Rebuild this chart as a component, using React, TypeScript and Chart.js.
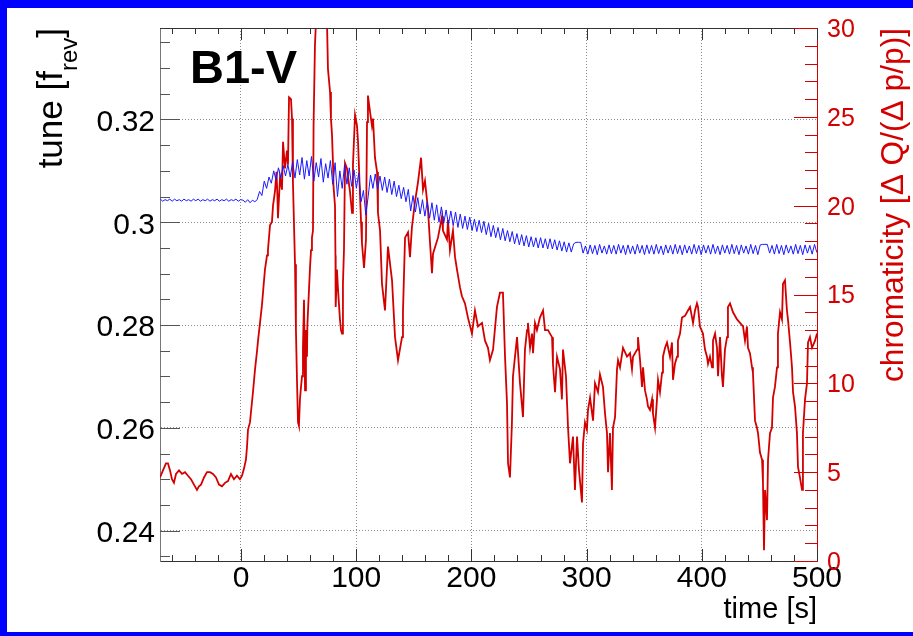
import React, { useEffect, useRef } from "react";
import { Chart, registerables } from "chart.js";

Chart.register(...registerables);

// ---------- axis ranges ----------
const TIME_MIN = -70.3;
const TIME_MAX = 500;
const TUNE_MIN = 0.2341;
const TUNE_MAX = 0.3378;
const CHROMA_MIN = 0;
const CHROMA_MAX = 30;

// ---------- texts ----------
const labelText = "B1-V";
const xTitle = "time [s]";
const yTitleMain = "tune [f";
const yTitleSub = "rev";
const yTitleEnd = "]";
const y2Title = "chromaticity [\u0394 Q/(\u0394 p/p)]";

// ---------- tune (blue), sampled every 2.05 s from -70 s ----------
const tuneStart = -70;
const tuneStep = 2.05;
const tuneValues = [
  0.3045, 0.3041, 0.3044, 0.3042, 0.3045, 0.3041, 0.3045, 0.3042, 0.3044, 0.3041,
  0.3045, 0.3042, 0.3044, 0.3041, 0.3045, 0.3042, 0.3045, 0.3041, 0.3044, 0.3042,
  0.3045, 0.3041, 0.3044, 0.3042, 0.3045, 0.3041, 0.3044, 0.3042, 0.3045, 0.3041,
  0.3044, 0.3042, 0.3045, 0.3041, 0.3044,
  0.3043, 0.3039, 0.3044, 0.3038, 0.3043, 0.3040,
  0.3044, 0.3060, 0.3052, 0.3080, 0.3066, 0.3088, 0.3076,
  0.3100, 0.3082, 0.3106, 0.3086, 0.3110, 0.3090, 0.3112,
  0.3088, 0.3118, 0.3086, 0.3122, 0.3092, 0.3126, 0.3084, 0.3120, 0.3090, 0.3128,
  0.3080, 0.3116, 0.3088, 0.3124, 0.3078, 0.3114, 0.3086, 0.3120,
  0.3074, 0.3116, 0.3050, 0.3100, 0.3066, 0.3112, 0.3074, 0.3106,
  0.3070, 0.3102, 0.3066, 0.3096, 0.3040, 0.3062, 0.3014,
  0.3050, 0.3092, 0.3066, 0.3094, 0.3064, 0.3090, 0.3062,
  0.3088, 0.3058, 0.3084, 0.3054, 0.3080, 0.3050, 0.3072, 0.3046, 0.3068, 0.3040, 0.3064,
  0.3022, 0.3052, 0.3020, 0.3048, 0.3016, 0.3044, 0.3012, 0.3040, 0.3008, 0.3038,
  0.3004, 0.3034, 0.3000, 0.3030, 0.2998,
  0.3024, 0.2996, 0.3022, 0.2994, 0.3020, 0.2990, 0.3016, 0.2988, 0.3012, 0.2986,
  0.3010, 0.2984, 0.3006, 0.2982, 0.3004,
  0.2980, 0.3002, 0.2976, 0.2998, 0.2972, 0.2994, 0.2970, 0.2990, 0.2966, 0.2988,
  0.2964, 0.2984, 0.2962, 0.2982, 0.2958,
  0.2978, 0.2956, 0.2976, 0.2954, 0.2974, 0.2952, 0.2972, 0.2952, 0.2970, 0.2950,
  0.2970, 0.2950, 0.2968, 0.2948, 0.2968,
  0.2948, 0.2966, 0.2946, 0.2964, 0.2944, 0.2962, 0.2942, 0.2960, 0.2942, 0.2958,
  0.2961, 0.2961, 0.2961,
  0.2940, 0.2954, 0.2938, 0.2956, 0.2939, 0.2955, 0.2937, 0.2957, 0.2940, 0.2954,
  0.2938, 0.2956, 0.2939, 0.2955, 0.2938, 0.2957, 0.2940, 0.2955, 0.2937, 0.2956,
  0.2939, 0.2954, 0.2938, 0.2957, 0.2940, 0.2955, 0.2937, 0.2956, 0.2939, 0.2955,
  0.2938, 0.2957, 0.2939, 0.2954, 0.2937, 0.2956, 0.2940, 0.2955, 0.2938, 0.2957,
  0.2939, 0.2955, 0.2937, 0.2956, 0.2940, 0.2954, 0.2938, 0.2957, 0.2939, 0.2955,
  0.2937, 0.2956, 0.2940, 0.2955, 0.2938, 0.2957, 0.2939, 0.2954, 0.2937, 0.2956,
  0.2940, 0.2955, 0.2938, 0.2957, 0.2939, 0.2955, 0.2937, 0.2956, 0.2940, 0.2954,
  0.2938, 0.2957, 0.2939, 0.2955, 0.2937, 0.2956, 0.2957, 0.2957, 0.2957, 0.2940,
  0.2955, 0.2938, 0.2957, 0.2939, 0.2955, 0.2937, 0.2956, 0.2940, 0.2954, 0.2938,
  0.2957, 0.2939, 0.2955, 0.2937, 0.2956, 0.2940, 0.2955, 0.2938, 0.2957, 0.2941,
];

// ---------- chromaticity (red) ----------
const chromaTimes = [
  -70.3, -67.7, -65.1, -63.4, -61.6, -59.9, -58.2, -56.4, -53.8, -51.2,
  -48.6, -46.0, -43.4, -40.8, -38.2, -36.5, -34.7, -32.1, -29.5, -26.9,
  -24.3, -21.7, -19.1, -16.5, -13.9, -11.3, -8.7, -6.1, -3.5, -0.9,
  0.9, 2.6, 4.3, 5.2, 6.1, 7.8, 8.7, 10.4, 12.2, 13.9,
  14.8, 16.5, 18.2, 19.1, 20.8, 22.6, 23.4, 25.2, 26.9, 27.8,
  29.5, 30.8, 31.6, 32.1, 33.9, 35.6, 36.5, 38.2, 39.9, 40.8,
  41.7, 43.4, 44.3, 45.1, 46.9, 47.7, 48.6, 49.5, 50.3, 51.2,
  52.1, 53.0, 53.8, 54.7, 55.6, 56.4, 57.3, 57.6, 58.2, 59.9,
  60.8, 61.6, 62.5, 63.0, 64.2, 65.1, 66.8, 73.8, 75.5, 77.3,
  78.1, 79.0, 79.9, 80.2, 81.6, 82.0, 82.2, 83.3, 84.2, 85.9,
  86.8, 87.7, 88.5, 89.4, 90.3, 92.0, 94.6, 96.4, 97.2, 99.0,
  100.7, 101.6, 103.3, 104.2, 105.0, 106.8, 108.5, 109.4, 110.2, 112.0,
  113.7, 114.6, 116.3, 118.1, 118.9, 120.7, 122.4, 125.0, 127.6, 131.1,
  133.7, 136.3, 139.8, 140.6, 142.4, 145.0, 146.7, 148.4, 151.0, 153.6,
  156.3, 158.0, 159.7, 162.3, 164.1, 165.8, 166.7, 171.0, 174.5, 175.3,
  178.8, 179.7, 181.4, 184.0, 185.8, 187.5, 190.1, 191.8, 194.4, 197.0,
  200.5, 203.1, 205.7, 209.2, 211.8, 214.4, 216.1, 218.8, 222.2, 224.8,
  227.4, 229.2, 230.9, 231.8, 233.5, 235.2, 236.1, 239.6, 242.2, 244.8,
  246.5, 248.3, 249.1, 250.9, 252.6, 253.5, 255.2, 256.9, 259.5, 262.2,
  263.9, 266.5, 270.0, 270.8, 272.6, 274.3, 276.9, 278.6, 279.5, 282.1,
  283.9, 285.6, 288.2, 289.9, 291.7, 293.4, 296.0, 296.9, 298.6, 300.3,
  301.2, 303.0, 305.6, 307.3, 309.9, 311.6, 314.2, 316.0, 317.7, 318.6,
  320.3, 322.0, 322.9, 324.7, 326.4, 327.3, 329.0, 331.6, 335.1, 337.7,
  339.4, 340.3, 343.8, 344.6, 346.4, 348.1, 349.0, 350.7, 352.4, 353.3,
  355.0, 356.8, 357.6, 359.4, 361.1, 362.0, 363.7, 365.5, 366.3, 368.1,
  369.8, 372.4, 374.1, 375.0, 376.7, 378.5, 379.3, 381.1, 382.8, 385.4,
  388.0, 389.8, 392.4, 394.1, 395.8, 396.7, 398.4, 401.0, 402.8, 404.5,
  405.4, 407.1, 408.9, 409.7, 411.5, 413.2, 414.1, 415.8, 417.5, 418.4,
  420.1, 421.9, 422.7, 424.5, 427.1, 430.6, 433.2, 435.8, 437.5, 439.2,
  440.1, 441.8, 443.6, 444.4, 446.2, 447.9, 448.8, 450.5, 452.3, 453.1,
  454.0, 454.9, 456.6, 457.5, 459.2, 460.9, 461.8, 463.5, 465.3, 466.1,
  467.9, 469.6, 470.5, 472.2, 473.9, 474.8, 476.6, 478.3, 479.2, 480.9,
  482.6, 483.5, 485.2, 487.0, 487.8, 489.6, 491.3, 492.2, 493.9, 495.7,
  498.3, 500.0,
];
const chromaValues = [
  4.7, 5.1, 5.5, 5.5, 5.1, 4.6, 4.4, 4.9, 5.1, 4.9,
  5.0, 4.8, 4.6, 4.3, 4.0, 4.2, 4.3, 4.7, 5.0, 5.0,
  4.9, 4.7, 4.3, 4.2, 4.4, 4.5, 4.9, 4.6, 4.8, 4.6,
  4.8, 5.2, 5.7, 6.4, 7.4, 7.8, 8.4, 9.5, 10.8, 11.8,
  12.4, 13.4, 14.4, 15.1, 16.4, 17.2, 17.5, 18.9, 19.1, 20.0,
  20.8, 21.9, 20.6, 19.3, 21.6, 20.9, 23.6, 22.1, 23.1, 22.3,
  26.1, 26.0, 24.9, 21.3, 16.7, 13.0, 10.2, 7.8, 7.6, 9.1,
  9.8, 10.4, 12.0, 14.7, 9.6, 13.0, 11.5, 13.2, 14.1, 16.5,
  17.5, 18.2, 18.6, 24.5, 29.0, 30.4, 33.0, 33.0, 27.7, 26.4,
  24.9, 24.0, 22.3, 21.2, 20.0, 17.2, 14.3, 16.4, 15.3, 13.6,
  13.0, 12.8, 15.6, 17.5, 22.4, 22.1, 20.8, 19.6, 22.3, 25.1,
  24.5, 23.6, 20.6, 19.1, 17.9, 16.5, 18.1, 24.7, 26.2, 25.3,
  24.5, 24.9, 22.7, 21.9, 19.6, 18.6, 15.6, 14.1, 17.7, 15.8,
  12.6, 11.3, 12.6, 14.0, 18.2, 18.5, 17.1, 18.8, 20.2, 21.3,
  22.7, 20.9, 21.4, 19.8, 17.9, 16.2, 17.3, 18.2, 19.4, 18.6,
  18.1, 19.2, 17.5, 18.6, 17.1, 16.4, 15.4, 14.9, 14.5, 13.7,
  12.8, 14.1, 13.2, 13.4, 12.4, 12.0, 11.3, 11.9, 14.3, 15.1,
  15.1, 11.5, 8.9, 5.5, 4.7, 7.8, 10.4, 12.6, 10.0, 8.1,
  11.9, 13.0, 13.4, 12.0, 12.8, 11.7, 13.4, 13.0, 13.7, 14.1,
  13.0, 13.0, 12.6, 11.1, 9.5, 11.5, 10.8, 9.1, 11.9, 10.4,
  7.5, 5.5, 7.0, 4.0, 7.0, 5.1, 3.3, 6.6, 7.8, 7.4,
  8.5, 9.2, 7.9, 10.0, 9.5, 10.5, 9.8, 8.3, 7.2, 5.0,
  7.2, 4.0, 7.5, 8.1, 10.8, 11.3, 10.9, 12.0, 11.5, 11.7,
  10.8, 11.5, 11.9, 12.6, 11.3, 9.8, 10.9, 9.6, 9.1, 8.7,
  8.5, 9.1, 8.3, 7.5, 9.1, 10.2, 9.5, 10.6, 11.5, 12.0,
  12.3, 11.5, 12.3, 10.2, 11.1, 11.5, 12.4, 12.8, 13.7, 13.8,
  14.1, 14.3, 13.4, 14.1, 14.5, 14.3, 13.2, 12.8, 11.9, 11.5,
  11.1, 11.5, 10.9, 12.4, 12.8, 12.0, 10.4, 12.6, 10.4, 9.8,
  11.9, 12.6, 14.3, 14.5, 14.0, 13.6, 13.4, 13.2, 12.4, 13.2,
  12.0, 11.7, 10.9, 10.6, 7.9, 7.5, 7.2, 6.1, 5.7, 4.4,
  0.6, 4.0, 2.3, 5.7, 7.2, 7.5, 9.2, 9.8, 10.9, 12.8,
  14.0, 13.6, 15.6, 15.8, 14.1, 13.6, 12.3, 10.9, 9.5, 8.7,
  7.2, 5.3, 4.7, 4.0, 7.2, 9.1, 10.0, 12.3, 12.6, 12.0,
  12.4, 12.8,
];

const FONT = '"Liberation Sans", Arial, Helvetica, sans-serif';
const RED = "#d40000";
const BLUE = "#1a1aff";

const framePlugin = {
  id: "rootFrame",
  beforeDraw(chart: any) {
    const { ctx, width, height } = chart;
    ctx.save();
    ctx.fillStyle = "#ffffff";
    ctx.fillRect(0, 0, width, height);
    ctx.fillStyle = "#0000ff";
    ctx.fillRect(0, 0, width, 8);
    ctx.fillRect(0, 0, 7, height);
    ctx.fillRect(0, height - 4, width, 4);
    ctx.restore();
  },
  afterDraw(chart: any) {
    const { ctx, chartArea: ca, scales } = chart;
    const xs = scales.x;
    const ys = scales.y;
    const y2s = scales.y2;
    const seg = (x1: number, y1: number, x2: number, y2: number) => {
      ctx.beginPath();
      ctx.moveTo(x1, y1);
      ctx.lineTo(x2, y2);
      ctx.stroke();
    };
    ctx.save();
    ctx.lineWidth = 1;
    // top frame line
    ctx.strokeStyle = "#333333";
    seg(ca.left, ca.top + 0.5, ca.right, ca.top + 0.5);
    // time ticks (bottom up, top down)
    for (let k = -3; k <= 25; k++) {
      const v = k * 20;
      const px = Math.round(xs.getPixelForValue(v)) + 0.5;
      const len = k % 5 === 0 ? 12 : 6;
      ctx.strokeStyle = "#333333";
      seg(px, ca.bottom, px, ca.bottom - len);
      seg(px, ca.top, px, ca.top + len);
    }
    // tune ticks (left, pointing right)
    ctx.strokeStyle = "#555555";
    for (let k = 47; k <= 67; k++) {
      const v = k * 0.005;
      const py = Math.round(ys.getPixelForValue(v)) + 0.5;
      const len = k % 4 === 0 ? 20 : 10;
      seg(ca.left, py, ca.left + len, py);
    }
    // chromaticity ticks (right, pointing left)
    ctx.strokeStyle = RED;
    for (let v = 0; v <= 30; v++) {
      const py = Math.round(y2s.getPixelForValue(v)) + 0.5;
      const len = v % 5 === 0 ? 23 : 12;
      seg(ca.right, py, ca.right - len, py);
    }
    ctx.restore();

    // titles
    ctx.save();
    ctx.textBaseline = "alphabetic";
    ctx.fillStyle = "#000000";
    const big = `35px ${FONT}`;
    const small = `24px ${FONT}`;
    ctx.font = big;
    const w1 = ctx.measureText(yTitleMain).width;
    const w3 = ctx.measureText(yTitleEnd).width;
    ctx.font = small;
    const w2 = ctx.measureText(yTitleSub).width;
    const W = w1 + w2 + w3;
    ctx.save();
    ctx.translate(62, ca.top);
    ctx.rotate(-Math.PI / 2);
    ctx.textAlign = "left";
    ctx.font = big;
    ctx.fillText(yTitleMain, -W, 0);
    ctx.font = small;
    ctx.fillText(yTitleSub, -W + w1, 15);
    ctx.font = big;
    ctx.fillText(yTitleEnd, -W + w1 + w2, 0);
    ctx.restore();

    ctx.save();
    ctx.translate(903, ca.top);
    ctx.rotate(-Math.PI / 2);
    ctx.textAlign = "right";
    ctx.fillStyle = RED;
    ctx.font = `31.7px ${FONT}`;
    ctx.fillText(y2Title, 0, 0);
    ctx.restore();

    ctx.textAlign = "right";
    ctx.font = `29px ${FONT}`;
    ctx.fillText(xTitle, ca.right, 618);

    ctx.textAlign = "left";
    ctx.font = `bold 47px ${FONT}`;
    ctx.fillText(labelText, 190, 83);
    ctx.restore();
  },
};

export default function App() {
  const canvasRef = useRef<HTMLCanvasElement | null>(null);

  useEffect(() => {
    const canvas = canvasRef.current;
    if (!canvas) return;
    const tuneData = tuneValues.map((v, i) => ({ x: tuneStart + i * tuneStep, y: v }));
    const chromaData = chromaTimes.map((t, i) => ({ x: t, y: chromaValues[i] }));

    const chart = new Chart(canvas, {
      type: "line",
      data: {
        datasets: [
          {
            label: "tune",
            data: tuneData,
            yAxisID: "y",
            borderColor: BLUE,
            borderWidth: 1,
            pointRadius: 0,
            tension: 0,
            fill: false,
          },
          {
            label: "chromaticity",
            data: chromaData,
            yAxisID: "y2",
            borderColor: RED,
            borderWidth: 1.8,
            pointRadius: 0,
            tension: 0,
            fill: false,
          },
        ],
      },
      options: {
        animation: false,
        responsive: false,
        devicePixelRatio: 1,
        layout: { padding: { top: 28, left: 0, right: 0, bottom: 0 } },
        plugins: {
          legend: { display: false },
          tooltip: { enabled: false },
          title: { display: false },
        },
        scales: {
          x: {
            type: "linear",
            position: "bottom",
            min: TIME_MIN,
            max: TIME_MAX,
            afterFit: (s: any) => {
              s.height = 75;
            },
            ticks: {
              stepSize: 100,
              includeBounds: false,
              padding: 0,
              color: "#000000",
              font: { family: FONT, size: 30 },
              maxRotation: 0,
              autoSkip: false,
            },
            grid: { color: "#8c8c8c", lineWidth: 1, drawTicks: false },
            border: { display: true, color: "#333333", width: 1, dash: [1, 2] },
          },
          y: {
            type: "linear",
            position: "left",
            min: TUNE_MIN,
            max: TUNE_MAX,
            afterFit: (s: any) => {
              s.width = 160;
            },
            ticks: {
              stepSize: 0.02,
              includeBounds: false,
              padding: 5,
              labelOffset: 3,
              color: "#000000",
              font: { family: FONT, size: 30 },
              callback: (v: any) => String(Number(Number(v).toFixed(3))),
              autoSkip: false,
            },
            grid: { color: "#8c8c8c", lineWidth: 1, drawTicks: false },
            border: { display: true, color: "#777777", width: 1, dash: [1, 2] },
          },
          y2: {
            type: "linear",
            position: "right",
            min: CHROMA_MIN,
            max: CHROMA_MAX,
            afterFit: (s: any) => {
              s.width = 96;
            },
            ticks: {
              stepSize: 5,
              padding: 10,
              labelOffset: 2,
              color: RED,
              font: { family: FONT, size: 25 },
              autoSkip: false,
            },
            grid: { drawOnChartArea: false, drawTicks: false },
            border: { display: true, color: RED, width: 1 },
          },
        },
      },
      plugins: [framePlugin],
    } as any);

    return () => chart.destroy();
  }, []);

  return (
    <div style={{ position: "fixed", left: 0, top: 0, width: 913, height: 636, background: "#fff" }}>
      <canvas ref={canvasRef} width={913} height={636} style={{ display: "block" }} />
    </div>
  );
}
